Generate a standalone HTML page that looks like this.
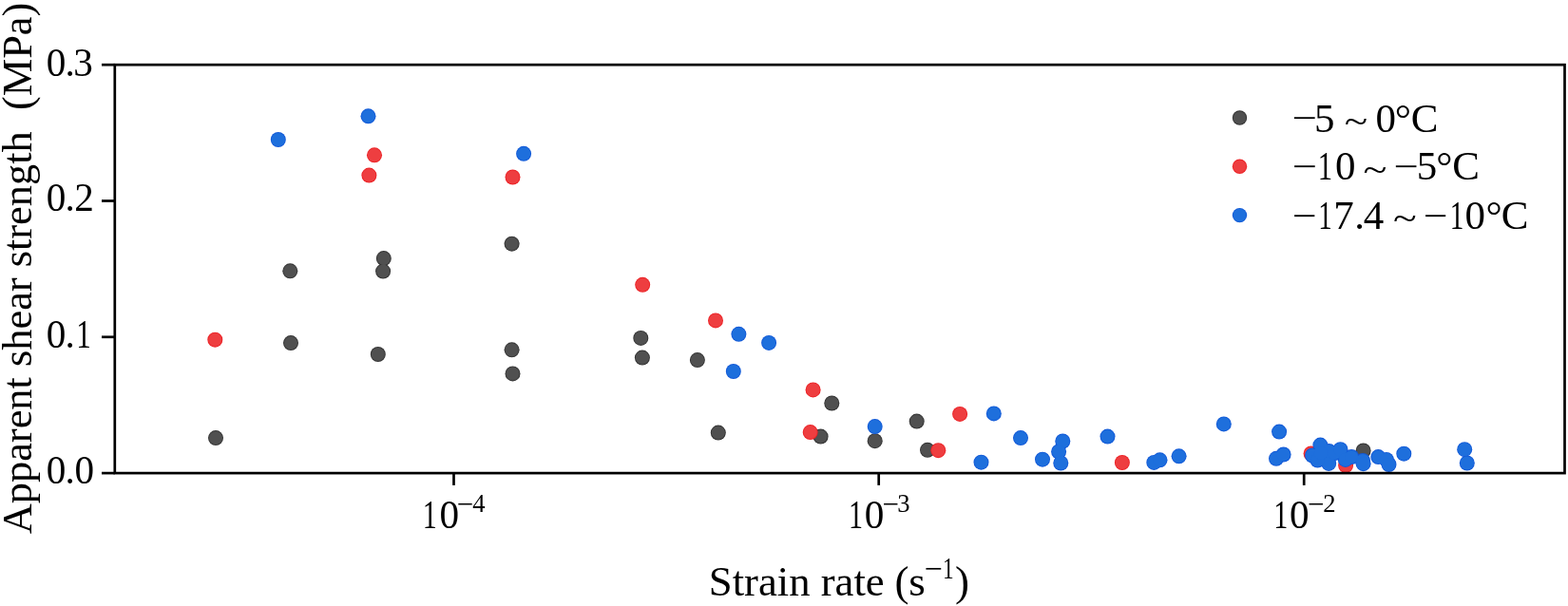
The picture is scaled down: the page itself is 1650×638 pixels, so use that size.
<!DOCTYPE html>
<html lang="en"><head><meta charset="utf-8"><title>Apparent shear strength vs strain rate</title>
<style>html,body{margin:0;padding:0;background:#fff;overflow:hidden}svg{display:block}</style>
</head><body>
<svg xmlns="http://www.w3.org/2000/svg" width="1650" height="638" viewBox="0 0 1650 638">
<rect width="1650" height="638" fill="#fff"/>
<defs><clipPath id="ax"><rect x="120.8" y="68.2" width="1525.7" height="429.9"/></clipPath></defs>
<g clip-path="url(#ax)">
<g fill="#333333"><circle cx="227.0" cy="461.1" r="8.0"/><circle cx="305.3" cy="285.3" r="8.0"/><circle cx="306.0" cy="361.1" r="8.0"/><circle cx="403.8" cy="272.1" r="8.0"/><circle cx="403.1" cy="285.6" r="8.0"/><circle cx="397.8" cy="373.0" r="8.0"/><circle cx="538.6" cy="256.7" r="8.0"/><circle cx="538.6" cy="368.3" r="8.0"/><circle cx="539.5" cy="393.4" r="8.0"/><circle cx="674.3" cy="355.9" r="8.0"/><circle cx="675.9" cy="376.6" r="8.0"/><circle cx="733.9" cy="379.1" r="8.0"/><circle cx="755.8" cy="455.6" r="8.0"/><circle cx="875.3" cy="424.5" r="8.0"/><circle cx="863.6" cy="459.6" r="8.0"/><circle cx="920.7" cy="464.2" r="8.0"/><circle cx="964.7" cy="443.6" r="8.0"/><circle cx="976.0" cy="473.8" r="8.0"/><circle cx="1434.6" cy="474.5" r="8.0"/></g>
<g fill="#505050"><circle cx="227.0" cy="461.1" r="7.1"/><circle cx="305.3" cy="285.3" r="7.1"/><circle cx="306.0" cy="361.1" r="7.1"/><circle cx="403.8" cy="272.1" r="7.1"/><circle cx="403.1" cy="285.6" r="7.1"/><circle cx="397.8" cy="373.0" r="7.1"/><circle cx="538.6" cy="256.7" r="7.1"/><circle cx="538.6" cy="368.3" r="7.1"/><circle cx="539.5" cy="393.4" r="7.1"/><circle cx="674.3" cy="355.9" r="7.1"/><circle cx="675.9" cy="376.6" r="7.1"/><circle cx="733.9" cy="379.1" r="7.1"/><circle cx="755.8" cy="455.6" r="7.1"/><circle cx="875.3" cy="424.5" r="7.1"/><circle cx="863.6" cy="459.6" r="7.1"/><circle cx="920.7" cy="464.2" r="7.1"/><circle cx="964.7" cy="443.6" r="7.1"/><circle cx="976.0" cy="473.8" r="7.1"/><circle cx="1434.6" cy="474.5" r="7.1"/></g>
<g fill="#ec2226"><circle cx="226.3" cy="357.7" r="8.0"/><circle cx="394.0" cy="163.3" r="8.0"/><circle cx="388.4" cy="184.6" r="8.0"/><circle cx="539.5" cy="186.5" r="8.0"/><circle cx="676.2" cy="299.8" r="8.0"/><circle cx="753.0" cy="337.4" r="8.0"/><circle cx="855.6" cy="410.4" r="8.0"/><circle cx="852.7" cy="455.1" r="8.0"/><circle cx="987.3" cy="474.2" r="8.0"/><circle cx="1010.1" cy="435.9" r="8.0"/><circle cx="1180.9" cy="487.0" r="8.0"/><circle cx="1379.6" cy="477.5" r="8.0"/><circle cx="1416.1" cy="490.0" r="8.0"/></g>
<g fill="#ee3e40"><circle cx="226.3" cy="357.7" r="7.1"/><circle cx="394.0" cy="163.3" r="7.1"/><circle cx="388.4" cy="184.6" r="7.1"/><circle cx="539.5" cy="186.5" r="7.1"/><circle cx="676.2" cy="299.8" r="7.1"/><circle cx="753.0" cy="337.4" r="7.1"/><circle cx="855.6" cy="410.4" r="7.1"/><circle cx="852.7" cy="455.1" r="7.1"/><circle cx="987.3" cy="474.2" r="7.1"/><circle cx="1010.1" cy="435.9" r="7.1"/><circle cx="1180.9" cy="487.0" r="7.1"/><circle cx="1379.6" cy="477.5" r="7.1"/><circle cx="1416.1" cy="490.0" r="7.1"/></g>
<g fill="#1259d8"><circle cx="292.8" cy="147.0" r="8.0"/><circle cx="387.5" cy="122.3" r="8.0"/><circle cx="551.1" cy="161.8" r="8.0"/><circle cx="777.4" cy="351.8" r="8.0"/><circle cx="809.1" cy="360.9" r="8.0"/><circle cx="771.8" cy="391.0" r="8.0"/><circle cx="920.7" cy="449.1" r="8.0"/><circle cx="1045.8" cy="435.4" r="8.0"/><circle cx="1032.5" cy="486.7" r="8.0"/><circle cx="1074.0" cy="461.1" r="8.0"/><circle cx="1097.0" cy="483.7" r="8.0"/><circle cx="1118.3" cy="464.5" r="8.0"/><circle cx="1114.1" cy="475.5" r="8.0"/><circle cx="1116.3" cy="487.5" r="8.0"/><circle cx="1165.5" cy="459.6" r="8.0"/><circle cx="1214.3" cy="486.9" r="8.0"/><circle cx="1220.5" cy="484.3" r="8.0"/><circle cx="1240.6" cy="480.3" r="8.0"/><circle cx="1287.8" cy="446.4" r="8.0"/><circle cx="1346.1" cy="454.6" r="8.0"/><circle cx="1343.0" cy="482.8" r="8.0"/><circle cx="1350.6" cy="478.5" r="8.0"/><circle cx="1389.4" cy="468.6" r="8.0"/><circle cx="1381.0" cy="479.5" r="8.0"/><circle cx="1398.2" cy="487.9" r="8.0"/><circle cx="1386.5" cy="484.5" r="8.0"/><circle cx="1398.5" cy="475.0" r="8.0"/><circle cx="1404.5" cy="477.0" r="8.0"/><circle cx="1390.0" cy="477.0" r="8.0"/><circle cx="1410.5" cy="473.2" r="8.0"/><circle cx="1415.8" cy="483.9" r="8.0"/><circle cx="1422.2" cy="481.0" r="8.0"/><circle cx="1434.0" cy="485.0" r="8.0"/><circle cx="1434.6" cy="488.2" r="8.0"/><circle cx="1450.3" cy="481.1" r="8.0"/><circle cx="1458.9" cy="483.9" r="8.0"/><circle cx="1461.5" cy="489.0" r="8.0"/><circle cx="1477.3" cy="477.7" r="8.0"/><circle cx="1541.2" cy="473.2" r="8.0"/><circle cx="1543.8" cy="487.5" r="8.0"/></g>
<g fill="#1e6fdc"><circle cx="292.8" cy="147.0" r="7.1"/><circle cx="387.5" cy="122.3" r="7.1"/><circle cx="551.1" cy="161.8" r="7.1"/><circle cx="777.4" cy="351.8" r="7.1"/><circle cx="809.1" cy="360.9" r="7.1"/><circle cx="771.8" cy="391.0" r="7.1"/><circle cx="920.7" cy="449.1" r="7.1"/><circle cx="1045.8" cy="435.4" r="7.1"/><circle cx="1032.5" cy="486.7" r="7.1"/><circle cx="1074.0" cy="461.1" r="7.1"/><circle cx="1097.0" cy="483.7" r="7.1"/><circle cx="1118.3" cy="464.5" r="7.1"/><circle cx="1114.1" cy="475.5" r="7.1"/><circle cx="1116.3" cy="487.5" r="7.1"/><circle cx="1165.5" cy="459.6" r="7.1"/><circle cx="1214.3" cy="486.9" r="7.1"/><circle cx="1220.5" cy="484.3" r="7.1"/><circle cx="1240.6" cy="480.3" r="7.1"/><circle cx="1287.8" cy="446.4" r="7.1"/><circle cx="1346.1" cy="454.6" r="7.1"/><circle cx="1343.0" cy="482.8" r="7.1"/><circle cx="1350.6" cy="478.5" r="7.1"/><circle cx="1389.4" cy="468.6" r="7.1"/><circle cx="1381.0" cy="479.5" r="7.1"/><circle cx="1398.2" cy="487.9" r="7.1"/><circle cx="1386.5" cy="484.5" r="7.1"/><circle cx="1398.5" cy="475.0" r="7.1"/><circle cx="1404.5" cy="477.0" r="7.1"/><circle cx="1390.0" cy="477.0" r="7.1"/><circle cx="1410.5" cy="473.2" r="7.1"/><circle cx="1415.8" cy="483.9" r="7.1"/><circle cx="1422.2" cy="481.0" r="7.1"/><circle cx="1434.0" cy="485.0" r="7.1"/><circle cx="1434.6" cy="488.2" r="7.1"/><circle cx="1450.3" cy="481.1" r="7.1"/><circle cx="1458.9" cy="483.9" r="7.1"/><circle cx="1461.5" cy="489.0" r="7.1"/><circle cx="1477.3" cy="477.7" r="7.1"/><circle cx="1541.2" cy="473.2" r="7.1"/><circle cx="1543.8" cy="487.5" r="7.1"/></g>
</g>
<g stroke="#000" stroke-width="2.7" stroke-linecap="butt" fill="none">
<line x1="107.0" y1="498.10" x2="120.8" y2="498.10"/>
<line x1="107.0" y1="354.80" x2="120.8" y2="354.80"/>
<line x1="107.0" y1="211.50" x2="120.8" y2="211.50"/>
<line x1="107.0" y1="68.20" x2="120.8" y2="68.20"/>
<line x1="477.5" y1="498.1" x2="477.5" y2="510.9"/>
<line x1="924.7" y1="498.1" x2="924.7" y2="510.9"/>
<line x1="1372.2" y1="498.1" x2="1372.2" y2="510.9"/>
<rect x="120.8" y="68.2" width="1525.7" height="429.9" stroke-linejoin="miter"/>
</g>
<g font-family="'Liberation Serif', 'Times New Roman', serif" fill="#000">
<text transform="translate(32.9,562.3) rotate(-90)" x="0" y="0" font-size="44.4" xml:space="preserve">Apparent shear strength  (MPa)</text>
<text><tspan x="48.85" y="509.40" font-size="41.2">0</tspan><tspan x="68.60" y="509.40" font-size="41.2">.</tspan><tspan x="78.45" y="509.40" font-size="41.2">0</tspan></text>
<text><tspan x="48.85" y="366.00" font-size="41.2">0</tspan><tspan x="68.60" y="366.00" font-size="41.2">.</tspan><tspan x="80.32" y="366.00" font-size="41.2" textLength="15.55" lengthAdjust="spacingAndGlyphs">1</tspan></text>
<text><tspan x="48.85" y="222.40" font-size="41.2">0</tspan><tspan x="68.60" y="222.40" font-size="41.2">.</tspan><tspan x="78.33" y="222.40" font-size="41.2">2</tspan></text>
<text><tspan x="48.85" y="79.50" font-size="41.2">0</tspan><tspan x="68.60" y="79.50" font-size="41.2">.</tspan><tspan x="77.37" y="79.50" font-size="41.2">3</tspan></text>
<text><tspan x="444.75" y="555.70" font-size="41.2" textLength="15.05" lengthAdjust="spacingAndGlyphs">1</tspan><tspan x="462.50" y="555.70" font-size="41.2">0</tspan><tspan x="480.79" y="541.20" font-size="31">−</tspan><tspan x="497.15" y="539.40" font-size="26.6">4</tspan></text>
<text><tspan x="892.95" y="555.70" font-size="41.2" textLength="15.05" lengthAdjust="spacingAndGlyphs">1</tspan><tspan x="909.80" y="555.70" font-size="41.2">0</tspan><tspan x="928.59" y="541.20" font-size="31">−</tspan><tspan x="944.23" y="539.40" font-size="26.6">3</tspan></text>
<text><tspan x="1340.25" y="555.70" font-size="41.2" textLength="15.05" lengthAdjust="spacingAndGlyphs">1</tspan><tspan x="1357.05" y="555.70" font-size="41.2">0</tspan><tspan x="1376.09" y="541.20" font-size="31">−</tspan><tspan x="1392.20" y="539.40" font-size="26.6">2</tspan></text>
<text><tspan x="745.8" y="627.0" font-size="44.7">Strain rate </tspan><tspan x="941.54" y="627.00" font-size="45">(</tspan><tspan x="956.23" y="627.00" font-size="45">s</tspan><tspan x="972.45" y="610.30" font-size="34">−</tspan><tspan x="992.05" y="609.10" font-size="31" textLength="11.65" lengthAdjust="spacingAndGlyphs">1</tspan><tspan x="1005.02" y="627.00" font-size="45">)</tspan></text>
<circle cx="1304.5" cy="124.0" r="7.7" fill="#333333"/><circle cx="1304.5" cy="124.0" r="6.8" fill="#505050"/>
<text><tspan x="1359.47" y="137.42" font-size="38" textLength="26.42" lengthAdjust="spacingAndGlyphs">−</tspan><tspan x="1383.09" y="138.60" font-size="43">5</tspan> <tspan x="1414.85" y="139.95" font-size="38" textLength="24.35" lengthAdjust="spacingAndGlyphs">~</tspan> <tspan x="1447.42" y="138.60" font-size="43">0</tspan><tspan x="1467.87" y="138.60" font-size="43">°</tspan><tspan x="1484.76" y="138.60" font-size="43">C</tspan></text>
<circle cx="1304.5" cy="175.3" r="7.7" fill="#ec2226"/><circle cx="1304.5" cy="175.3" r="6.8" fill="#ee3e40"/>
<text><tspan x="1359.69" y="188.22" font-size="38" textLength="26.18" lengthAdjust="spacingAndGlyphs">−</tspan><tspan x="1386.70" y="189.40" font-size="43" textLength="15.34" lengthAdjust="spacingAndGlyphs">1</tspan><tspan x="1405.00" y="189.40" font-size="43">0</tspan> <tspan x="1434.52" y="190.75" font-size="38" textLength="24.91" lengthAdjust="spacingAndGlyphs">~</tspan> <tspan x="1466.59" y="188.22" font-size="38" textLength="26.18" lengthAdjust="spacingAndGlyphs">−</tspan><tspan x="1490.84" y="189.40" font-size="43">5</tspan><tspan x="1511.22" y="189.40" font-size="43">°</tspan><tspan x="1528.36" y="189.40" font-size="43">C</tspan></text>
<circle cx="1304.5" cy="226.6" r="7.7" fill="#1259d8"/><circle cx="1304.5" cy="226.6" r="6.8" fill="#1e6fdc"/>
<text><tspan x="1359.82" y="239.52" font-size="38" textLength="25.81" lengthAdjust="spacingAndGlyphs">−</tspan><tspan x="1387.15" y="240.70" font-size="43" textLength="14.49" lengthAdjust="spacingAndGlyphs">1</tspan><tspan x="1403.30" y="240.70" font-size="43">7</tspan><tspan x="1425.28" y="240.70" font-size="43">.</tspan><tspan x="1434.82" y="240.70" font-size="43">4</tspan> <tspan x="1465.93" y="242.05" font-size="38" textLength="24.68" lengthAdjust="spacingAndGlyphs">~</tspan> <tspan x="1497.73" y="239.52" font-size="38" textLength="25.69" lengthAdjust="spacingAndGlyphs">−</tspan><tspan x="1525.73" y="240.70" font-size="43" textLength="14.63" lengthAdjust="spacingAndGlyphs">1</tspan><tspan x="1541.60" y="240.70" font-size="43">0</tspan><tspan x="1563.52" y="240.70" font-size="43">°</tspan><tspan x="1579.66" y="240.70" font-size="43">C</tspan></text>
</g>
</svg>
</body></html>
